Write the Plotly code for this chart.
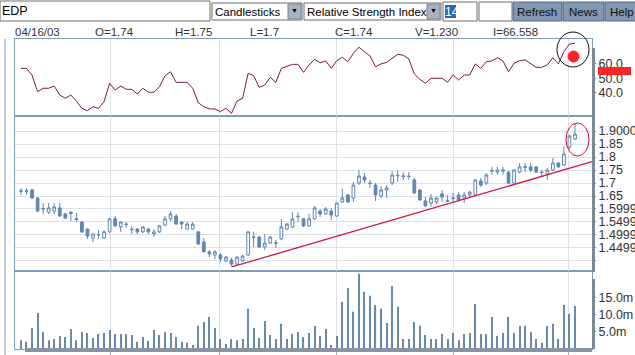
import plotly.graph_objects as go

# ---------------- data ----------------
candle_idx = list(range(101))

open_ = [1.670,1.668,1.673,1.642,1.600,1.588,1.592,1.604,1.581,1.588,
         1.563,1.550,1.523,1.488,1.500,1.488,1.512,1.562,1.531,1.542,
         1.520,1.523,1.512,1.523,1.504,1.512,1.538,1.562,1.573,1.550,
         1.523,1.523,1.512,1.473,1.435,1.423,1.423,1.400,1.404,1.388,
         1.400,1.423,1.490,1.492,1.454,1.469,1.470,1.485,1.523,1.531,
         1.570,1.562,1.535,1.562,1.592,1.581,1.592,1.573,1.627,1.654,
         1.642,1.700,1.723,1.700,1.692,1.650,1.673,1.700,1.730,1.725,
         1.727,1.712,1.673,1.631,1.623,1.627,1.658,1.632,1.640,1.654,
         1.642,1.654,1.654,1.708,1.700,1.745,1.742,1.745,1.742,1.700,
         1.742,1.760,1.762,1.762,1.742,1.735,1.750,1.777,1.769,1.838,
         1.869]
high = [1.680,1.680,1.678,1.645,1.623,1.623,1.623,1.623,1.585,1.590,
        1.585,1.552,1.525,1.504,1.519,1.519,1.565,1.573,1.552,1.550,
        1.535,1.527,1.535,1.527,1.523,1.538,1.573,1.592,1.581,1.552,
        1.550,1.550,1.515,1.488,1.442,1.442,1.431,1.419,1.412,1.417,
        1.423,1.515,1.512,1.496,1.504,1.496,1.481,1.562,1.546,1.588,
        1.588,1.565,1.581,1.612,1.600,1.608,1.604,1.625,1.677,1.658,
        1.704,1.750,1.738,1.712,1.700,1.688,1.692,1.746,1.750,1.742,
        1.742,1.719,1.677,1.646,1.658,1.646,1.673,1.654,1.662,1.665,
        1.665,1.669,1.715,1.719,1.738,1.762,1.762,1.762,1.746,1.754,
        1.777,1.777,1.777,1.765,1.750,1.758,1.796,1.781,1.842,1.885,
        1.927]
low = [1.655,1.655,1.640,1.588,1.581,1.581,1.581,1.570,1.562,1.554,
       1.550,1.508,1.485,1.473,1.485,1.485,1.508,1.531,1.512,1.527,
       1.504,1.504,1.508,1.504,1.492,1.508,1.535,1.554,1.540,1.523,
       1.523,1.520,1.462,1.435,1.415,1.408,1.396,1.396,1.381,1.385,
       1.396,1.419,1.454,1.450,1.442,1.465,1.450,1.481,1.519,1.527,
       1.550,1.531,1.531,1.558,1.570,1.577,1.558,1.570,1.625,1.623,
       1.627,1.692,1.700,1.681,1.631,1.642,1.642,1.692,1.704,1.712,
       1.712,1.658,1.631,1.608,1.608,1.619,1.627,1.627,1.623,1.627,
       1.623,1.642,1.650,1.685,1.692,1.731,1.731,1.731,1.696,1.696,
       1.738,1.742,1.742,1.738,1.723,1.712,1.746,1.758,1.765,1.830,
       1.865]
close = [1.668,1.670,1.642,1.592,1.602,1.604,1.608,1.573,1.565,1.583,
         1.560,1.512,1.496,1.504,1.502,1.512,1.562,1.535,1.550,1.540,
         1.522,1.512,1.531,1.512,1.512,1.535,1.562,1.581,1.542,1.542,
         1.542,1.542,1.465,1.435,1.427,1.435,1.408,1.415,1.388,1.415,
         1.419,1.512,1.492,1.454,1.469,1.492,1.468,1.531,1.542,1.562,
         1.572,1.535,1.562,1.604,1.581,1.600,1.577,1.623,1.642,1.627,
         1.692,1.727,1.712,1.698,1.654,1.673,1.681,1.731,1.728,1.727,
         1.725,1.662,1.635,1.612,1.642,1.642,1.646,1.630,1.642,1.635,
         1.654,1.665,1.712,1.692,1.731,1.748,1.750,1.750,1.700,1.750,
         1.762,1.762,1.750,1.742,1.740,1.750,1.777,1.762,1.812,1.881,
         1.888]
volume_m = [2.6,2.1,6.2,10.6,5.0,2.6,2.9,3.8,3.5,5.9,
            2.6,5.0,4.7,3.2,4.4,4.7,5.6,4.4,4.4,4.4,
            4.1,2.1,3.5,2.4,5.6,4.1,5.0,4.7,3.5,2.1,
            1.8,1.2,6.8,7.9,9.4,6.2,2.9,1.5,2.9,2.6,
            2.9,11.8,6.2,3.2,8.2,4.1,2.9,7.4,2.9,4.4,
            5.0,3.5,4.7,6.8,3.8,5.9,1.2,3.8,13.8,17.9,
            10.9,22.1,16.8,15.6,12.9,11.8,7.6,18.5,12.4,2.9,
            2.9,7.9,6.8,4.1,2.9,2.9,4.4,2.9,4.7,2.6,
            4.4,4.7,13.2,4.4,4.4,9.4,3.8,4.7,9.4,4.7,
            6.8,6.8,5.0,2.9,1.8,6.8,7.4,2.9,12.9,10.3,
            12.6]
rsi = [56.7,56.7,52.0,40.9,43.2,43.2,44.7,38.6,36.4,38.6,
       34.6,29.6,28.0,30.7,29.6,34.1,46.6,42.0,44.7,42.5,
       42.5,39.3,43.2,40.5,40.5,44.3,51.7,54.4,47.2,47.2,
       47.2,43.2,33.4,30.7,29.2,29.2,27.4,29.6,26.2,34.6,
       36.4,53.4,51.7,43.8,45.4,50.6,47.2,56.7,57.8,59.4,
       59.4,54.0,59.0,62.8,60.5,61.7,56.7,61.9,64.2,61.2,
       66.9,71.0,68.0,65.1,57.8,59.7,60.8,63.5,66.2,65.6,
       63.1,52.9,49.3,46.6,50.0,50.0,50.0,47.3,52.2,48.8,
       52.2,52.2,59.7,56.7,61.2,61.7,63.9,61.7,54.4,60.1,
       61.9,62.4,60.1,57.4,57.4,59.0,63.9,59.7,68.0,73.2,
       73.7]

month_grid = [16.1, 35.9, 56.9, 78.0, 98.9]
x_range = [-1.08, 103.07]

trend_x = [38, x_range[1]]
trend_y = [1.377, 1.782]

price_ticks = [1.40, 1.45, 1.50, 1.55, 1.60, 1.65, 1.70, 1.75, 1.80, 1.85, 1.90]
price_labels = ["", "1.4499", "1.4999", "1.5499", "1.5999", "1.65", "1.7", "1.75", "1.8", "1.85", "1.9000"]
rsi_ticks = [40, 50, 60]
rsi_labels = ["40.0", "50.0", "60.0"]
vol_ticks = [5, 10, 15]
vol_labels = ["5.0m", "10.0m", "15.0m"]

info_texts = ["04/16/03", "O=1.74", "H=1.75", "L=1.7", "C=1.74", "V=1.230", "I=66.558"]
info_px = [15, 95, 175, 250, 335, 415, 493]

# ---------------- styling ----------------
W, H = 635, 355
def X(px):
    return px / W
def Y(py):
    return 1 - py / H

BLUE = "#5f87b0"
BORDER = "#7f9bb8"
GRID = "#dde2e8"
FONT = "Liberation Sans, Arial, sans-serif"
TXT = "#333333"

fig = go.Figure()

fig.add_trace(go.Bar(x=candle_idx, y=volume_m, width=0.2,
                     marker=dict(color="#6a8aab", line=dict(width=0)),
                     xaxis="x", yaxis="y", hoverinfo="skip"))
fig.add_trace(go.Candlestick(x=candle_idx, open=open_, high=high, low=low, close=close,
                             increasing=dict(line=dict(color=BLUE, width=1), fillcolor="white"),
                             decreasing=dict(line=dict(color=BLUE, width=1), fillcolor=BLUE),
                             whiskerwidth=0, xaxis="x2", yaxis="y2"))
fig.add_trace(go.Scatter(x=trend_x, y=trend_y, mode="lines",
                         line=dict(color="#d0143c", width=1.3), xaxis="x2", yaxis="y2"))
fig.add_trace(go.Scatter(x=candle_idx, y=rsi, mode="lines",
                         line=dict(color="#7c1a3c", width=1), xaxis="x3", yaxis="y3"))

xdom = [X(15), X(592)]
common_x = dict(domain=xdom, range=x_range, tickvals=month_grid, showticklabels=False,
                showgrid=True, gridcolor=GRID, gridwidth=1, showline=True, linecolor=BORDER,
                mirror=True, zeroline=False, fixedrange=True)
common_y = dict(side="right", showline=True, linecolor=BORDER, mirror=True, zeroline=False,
                ticks="outside", ticklen=3, tickcolor="#6a88a8",
                tickfont=dict(family=FONT, size=12.5, color=TXT), automargin=False)

fig.update_layout(
    width=W, height=H, margin=dict(l=0, r=0, t=0, b=0),
    paper_bgcolor="white", plot_bgcolor="white", showlegend=False,
    template="none",
    xaxis=dict(**common_x, anchor="y", ticks="outside", ticklen=6, tickcolor="#a0b0c0"),
    xaxis2=dict(**common_x, anchor="y2", matches="x", ticks="", rangeslider=dict(visible=False)),
    xaxis3=dict(**common_x, anchor="y3", matches="x", ticks=""),
    yaxis=dict(**common_y, domain=[Y(349), Y(271)], range=[0, 22.9], anchor="x",
               tickvals=vol_ticks, ticktext=vol_labels, showgrid=False),
    yaxis2=dict(**common_y, domain=[Y(271), Y(116)], range=[1.3615, 1.9577], anchor="x2",
                tickvals=price_ticks, ticktext=price_labels, showgrid=True, gridcolor=GRID),
    yaxis3=dict(**common_y, domain=[Y(116), Y(39)], range=[24.4, 76.6], anchor="x3",
                tickvals=rsi_ticks, ticktext=rsi_labels, showgrid=False),
)

shapes = []
def rect(x0, y0, x1, y1, fill, line=None, lw=1, layer="above"):
    shapes.append(dict(type="rect", xref="paper", yref="paper",
                       x0=X(x0), x1=X(x1), y0=Y(y1), y1=Y(y0),
                       fillcolor=fill, line=dict(color=line or fill, width=lw if line else 0),
                       layer=layer))
def ell(x0, y0, x1, y1, color, fill=None, lw=1):
    shapes.append(dict(type="circle", xref="paper", yref="paper",
                       x0=X(x0), x1=X(x1), y0=Y(y1), y1=Y(y0),
                       fillcolor=fill or "rgba(0,0,0,0)", line=dict(color=color, width=lw),
                       layer="above"))

# toolbar controls
rect(0, 1, 210, 21, "white", "#6c6c6c")
rect(212, 3, 302, 20, "white", "#6c6c6c")
rect(288, 4, 301, 19, "#a9b3c2", "#7a8595")
rect(304, 3, 441, 20, "white", "#6c6c6c")
rect(427, 4, 440, 19, "#a9b3c2", "#7a8595")
rect(443, 2, 477, 21, "white", "#6c6c6c")
rect(445, 5, 456, 18, "#2f63b8")
rect(479, 2, 512, 21, "white", "#6c6c6c")
rect(513, 2, 562, 21, "#8197b2", "#56677d")
rect(563, 2, 604, 21, "#8197b2", "#56677d")
rect(605, 2, 640, 21, "#8197b2", "#56677d")
# frame details
shapes.append(dict(type="line", xref="paper", yref="paper", x0=X(5), x1=X(5), y0=Y(355), y1=Y(39),
                   line=dict(color=BORDER, width=1)))
rect(592, 48, 595, 272, "#7b8896")
rect(592, 279, 595, 349, "#7b8896")
rect(25, 348, 592, 352, "#8894a2")
# hand-drawn marks
ell(557, 32, 589, 67, "#111111", lw=1)
ell(568, 51, 579, 62, "#ff2424", fill="#ff2424", lw=1)
ell(566, 123, 589, 156, "#c4102e", lw=1)
rect(598, 67, 631, 75, "#ff2424", layer="above")
fig.update_layout(shapes=shapes)

ann = []
def text(px, py, s, size=12, color="black", anchor="left"):
    ann.append(dict(x=X(px), y=Y(py), xref="paper", yref="paper", text=s, showarrow=False,
                    xanchor=anchor, yanchor="middle", font=dict(family=FONT, size=size, color=color),
                    borderpad=0))
text(1, 11, "EDP", 12.5)
text(214, 12, "Candlesticks", 11.5)
text(306, 12, "Relative Strength Index", 11.5)
text(444, 12, "14", 12, color="white")
text(537, 12, "Refresh", 11.5, color="#111111", anchor="center")
text(583, 12, "News", 11.5, color="#111111", anchor="center")
text(609, 12, "Help", 11.5, color="#111111")
text(294.5, 11, "▼", 7, anchor="center")
text(433.5, 11, "▼", 7, anchor="center")
for s, p in zip(info_texts, info_px):
    text(p - 1, 32, s, 11.5, color=TXT)
fig.update_layout(annotations=ann)

fig.write_html("out.html", config={"displayModeBar": False},
               post_script="document.body.style.margin='0px';document.body.style.overflow='hidden';")
